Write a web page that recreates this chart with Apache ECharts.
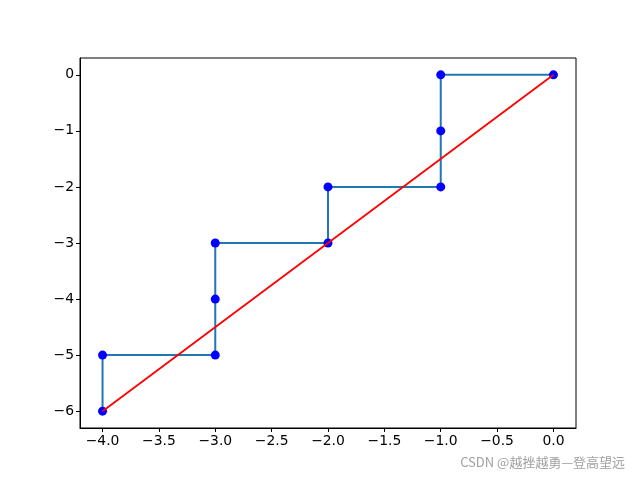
<!DOCTYPE html>
<html>
<head>
<meta charset="utf-8">
<script src="https://cdn.jsdelivr.net/npm/echarts@6/dist/echarts.min.js"></script>
<style>html,body{margin:0;padding:0;background:#fff;}#main{width:640px;height:480px;}</style>
</head>
<body>
<div id="main"></div>
<script>
var pathX = [0, -1, -1, -1, -2, -2, -3, -3, -3, -4, -4];
var pathY = [0, 0, -1, -2, -2, -3, -3, -4, -5, -5, -6];
var lineX = [0, -4];
var lineY = [0, -6];
var xTicks = [-4.0, -3.5, -3.0, -2.5, -2.0, -1.5, -1.0, -0.5, 0.0];
var yTicks = [-6, -5, -4, -3, -2, -1, 0];
var watermark = 'CSDN @越挫越勇—登高望远';

function pairs(xs, ys) { return xs.map(function (x, i) { return [x, ys[i]]; }); }
function fmt(v, d) { var s = Math.abs(v).toFixed(d); return (v < 0 ? '\u2212' : '') + s; }

var chart = echarts.init(document.getElementById('main'), null, {renderer: 'canvas'});
var font = {fontFamily: 'DejaVu Sans', fontSize: 13.9, color: '#000'};
chart.setOption({
  animation: false,
  backgroundColor: '#fff',
  grid: {left: 80, right: 64, top: 58, bottom: 52, show: true, borderColor: '#000', borderWidth: 1, backgroundColor: 'transparent'},
  xAxis: {
    type: 'value', min: -4.2, max: 0.2,
    splitLine: {show: false},
    axisLine: {show: true, onZero: false, lineStyle: {color: '#000', width: 1}},
    axisTick: {show: true, length: 4, customValues: xTicks, lineStyle: {color: '#000'}},
    axisLabel: Object.assign({customValues: xTicks, margin: 6, formatter: function (v) { return fmt(v, 1); }}, font)
  },
  yAxis: {
    type: 'value', min: -6.3, max: 0.3,
    splitLine: {show: false},
    axisLine: {show: true, onZero: false, lineStyle: {color: '#000', width: 1}},
    axisTick: {show: true, length: 4, customValues: yTicks, lineStyle: {color: '#000'}},
    axisLabel: Object.assign({customValues: yTicks, margin: 6, formatter: function (v) { return fmt(v, 0); }}, font)
  },
  series: [
    {type: 'line', data: pairs(pathX, pathY), showSymbol: false, symbol: 'none', lineStyle: {color: '#1f77b4', width: 2}, z: 2},
    {type: 'scatter', data: pairs(pathX, pathY), symbol: 'circle', symbolSize: 9, itemStyle: {color: '#0000ff', opacity: 1}, z: 3},
    {type: 'line', data: pairs(lineX, lineY), showSymbol: false, symbol: 'none', lineStyle: {color: '#ff0000', width: 1.8}, z: 4}
  ],
  graphic: [{
    type: 'text', right: 15, top: 456,
    style: {text: watermark, fill: '#a0a0a0', font: '13px "Noto Sans CJK SC", sans-serif'}
  }]
});
</script>
</body>
</html>
